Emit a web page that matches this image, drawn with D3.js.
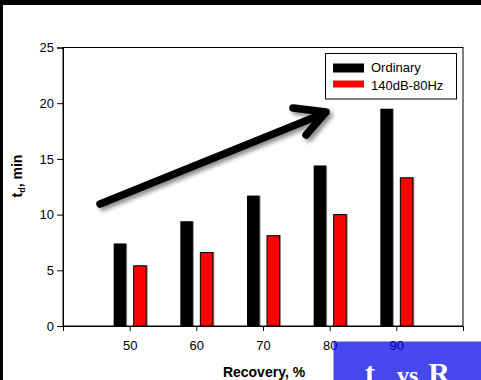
<!DOCTYPE html>
<html><head><meta charset="utf-8">
<script src="https://cdn.jsdelivr.net/npm/d3@7"></script>
<style>html,body{margin:0;padding:0;background:#fff;}svg{display:block;}</style>
</head><body>
<script>
const categories = [50, 60, 70, 80, 90];
const ordinary = [7.4, 9.4, 11.7, 14.4, 19.5];
const treated = [5.4, 6.6, 8.1, 10.0, 13.3];
const seriesNames = ["Ordinary", "140dB-80Hz"];
const yTicks = [0, 5, 10, 15, 20, 25];
const xTicks = [50, 60, 70, 80, 90];

const W = 481, H = 380;
const svg = d3.select("body").append("svg").attr("width", W).attr("height", H);
const defs = svg.append("defs");
const fs = defs.append("filter").attr("id","shadow").attr("x","-20%").attr("y","-20%").attr("width","160%").attr("height","160%");
fs.append("feDropShadow").attr("dx",3).attr("dy",3).attr("stdDeviation",2).attr("flood-color","#000").attr("flood-opacity",0.45);
const fb = defs.append("filter").attr("id","barshadow").attr("x","-30%").attr("y","-10%").attr("width","160%").attr("height","120%");
fb.append("feDropShadow").attr("dx",1).attr("dy",0).attr("stdDeviation",0.6).attr("flood-color","#000").attr("flood-opacity",0.45);

svg.append("rect").attr("width",W).attr("height",H).attr("fill","#fff");
svg.append("rect").attr("x",0).attr("y",0).attr("width",W).attr("height",5).attr("fill","#000");
svg.append("rect").attr("x",0).attr("y",0).attr("width",3).attr("height",H).attr("fill","#000");

const x0 = 63, x1 = 463, yTop = 47.5, yBot = 326;
const x = d3.scaleLinear().domain([40, 100]).range([x0, x1]);
const y = d3.scaleLinear().domain([0, 25]).range([yBot, yTop]);

svg.append("rect").attr("x",x0).attr("y",yTop).attr("width",x1-x0).attr("height",yBot-yTop)
  .attr("fill","none").attr("stroke","#000").attr("stroke-width",1);

const bw = 12.5;
const g = svg.append("g");
g.selectAll(".ob").data(categories).join("rect")
  .attr("x", (d)=> x(d) - 16).attr("y", (d,i)=> y(ordinary[i]))
  .attr("width", bw).attr("height", (d,i)=> yBot - y(ordinary[i]))
  .attr("fill","#000").attr("filter","url(#barshadow)");
g.selectAll(".tb").data(categories).join("rect")
  .attr("x", (d)=> x(d) + 4).attr("y", (d,i)=> y(treated[i]))
  .attr("width", bw).attr("height", (d,i)=> yBot - y(treated[i]))
  .attr("fill","#ff0000").attr("stroke","#000").attr("stroke-width",1).attr("filter","url(#barshadow)");

const yAxis = d3.axisLeft(y).tickValues(yTicks).tickSize(6).tickPadding(3).tickFormat(d3.format("d"));
const ya = svg.append("g").attr("transform",`translate(${x0},0)`).call(yAxis);
const xAxis = d3.axisBottom(x).tickValues(xTicks).tickSize(5).tickPadding(10).tickFormat(d3.format("d"));
const xa = svg.append("g").attr("transform",`translate(0,${yBot})`).call(xAxis);
[ya, xa].forEach(a => {
  a.select(".domain").attr("stroke","#000");
  a.selectAll(".tick line").attr("stroke","#000");
  a.selectAll("text").attr("font-family","Liberation Sans, Arial, sans-serif").attr("font-size",13).attr("fill","#000");
});

svg.append("text").attr("x",264).attr("y",377).attr("text-anchor","middle")
  .attr("font-family","Liberation Sans, Arial, sans-serif").attr("font-size",14).attr("font-weight","bold").text("Recovery, %");
const yl = svg.append("text").attr("transform","translate(22,176) rotate(-90)").attr("text-anchor","middle")
  .attr("font-family","Liberation Sans, Arial, sans-serif").attr("font-size",14).attr("font-weight","bold");
yl.append("tspan").text("t");
yl.append("tspan").attr("font-size",9).attr("dy",3).text("d");
yl.append("tspan").attr("dy",-3).text(", min");

const lg = svg.append("g");
lg.append("rect").attr("x",325.5).attr("y",53.5).attr("width",131).attr("height",45.5).attr("fill","#fff").attr("stroke","#000");
const colors = ["#000","#ff0000"];
seriesNames.forEach((n,i)=>{
  lg.append("rect").attr("x",333).attr("y", i===0 ? 63.5 : 80.5).attr("width",31).attr("height", i===0 ? 9 : 7)
    .attr("fill",colors[i]);
  lg.append("text").attr("x",371).attr("y", i===0 ? 72 : 90).attr("font-family","Liberation Sans, Arial, sans-serif")
    .attr("font-size",13).attr("fill","#000").text(n);
});

const arrow = svg.append("g").attr("filter","url(#shadow)").attr("stroke","#000").attr("stroke-width",7.5)
  .attr("stroke-linecap","round").attr("fill","none");
arrow.append("line").attr("x1",100).attr("y1",204).attr("x2",325).attr("y2",113);
arrow.append("path").attr("d","M293,108 L326,112 L306,135").attr("stroke-linejoin","round");

const bx = svg.append("g");
bx.append("rect").attr("x",333.5).attr("y",341.5).attr("width",150).attr("height",45).attr("fill","rgb(0,0,234)").attr("fill-opacity",0.72);
const tt = bx.append("text").attr("x",365).attr("y",383).attr("font-family","Liberation Serif, Times New Roman, serif")
  .attr("font-weight","bold").attr("fill","#fff");
tt.append("tspan").attr("font-size",30).text("t");
tt.append("tspan").attr("font-size",24).attr("dx",22).text("vs");
tt.append("tspan").attr("font-size",30).attr("dx",10).text("R");
</script>
</body></html>
